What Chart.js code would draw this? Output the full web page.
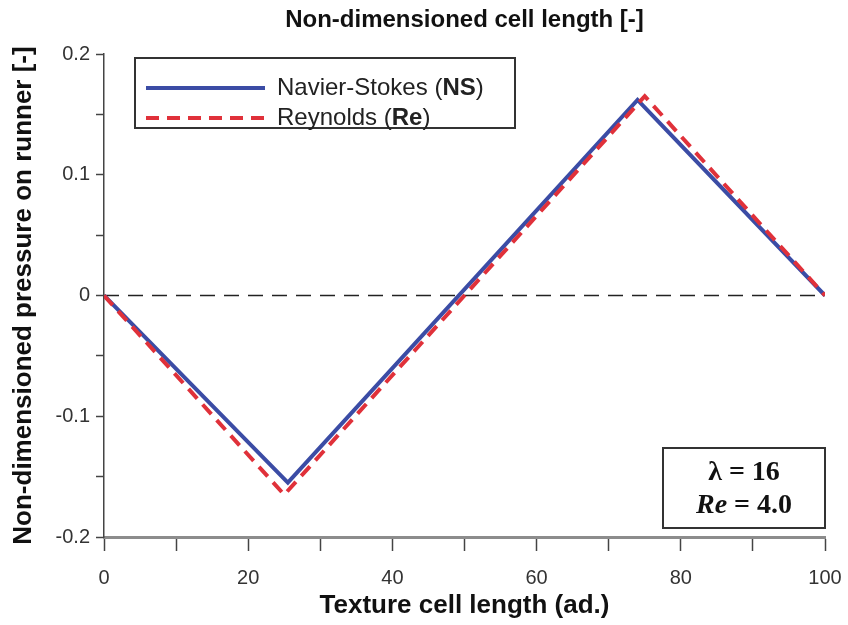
<!DOCTYPE html>
<html>
<head>
<meta charset="utf-8">
<script src="https://cdn.jsdelivr.net/npm/chart.js@4.4.1/dist/chart.umd.min.js"></script>
<style>
  body { margin: 0; background: #fff; }
</style>
</head>
<body>
<canvas id="pressureChart" width="848" height="625"></canvas>
<script>
// texture cell length (ad.) and non-dimensioned pressure
const nsX = [0, 25.5, 74, 100];
const nsP = [0, -0.155, 0.162, 0];
const reX = [0, 25, 75, 100];
const reP = [0, -0.165, 0.165, 0];
const zeroX = [0, 100];
const zeroP = [0, 0];

const legendLabels = [
    { plain: "Navier-Stokes (", bold: "NS", tail: ")" },
    { plain: "Reynolds (", bold: "Re", tail: ")" },
];

const SANS = "'Liberation Sans', Arial, sans-serif";
const SERIF = "'Liberation Serif', 'Times New Roman', serif";

const toPts = (xs, ys) => xs.map((x, i) => ({ x: x, y: ys[i] }));

// legend + parameter box, drawn by hand so part of the text can be bold
const boxes = {
    id: "boxes",
    afterDraw(chart) {
        const ctx = chart.ctx;
        const ds = chart.data.datasets;
        ctx.save();

        // legend
        ctx.strokeStyle = "#333";
        ctx.lineWidth = 2;
        ctx.strokeRect(135, 58, 380, 70);
        const rows = [
            { y: 88, set: ds[1] },
            { y: 118, set: ds[0] },
        ];
        rows.forEach((r, i) => {
            ctx.beginPath();
            ctx.strokeStyle = r.set.borderColor;
            ctx.lineWidth = r.set.borderWidth;
            ctx.setLineDash(r.set.borderDash || []);
            ctx.moveTo(146, r.y);
            ctx.lineTo(265, r.y);
            ctx.stroke();
            ctx.setLineDash([]);

            const lab = legendLabels[i];
            let x = 277;
            ctx.fillStyle = "#222";
            ctx.textBaseline = "middle";
            ctx.textAlign = "left";
            ctx.font = "24px " + SANS;
            ctx.fillText(lab.plain, x, r.y);
            x += ctx.measureText(lab.plain).width;
            ctx.font = "bold 24px " + SANS;
            ctx.fillText(lab.bold, x, r.y);
            x += ctx.measureText(lab.bold).width;
            ctx.font = "24px " + SANS;
            ctx.fillText(lab.tail, x, r.y);
        });

        // lambda / Re box
        ctx.strokeStyle = "#333";
        ctx.lineWidth = 2;
        ctx.strokeRect(663, 448, 162, 80);
        ctx.fillStyle = "#111";
        ctx.textBaseline = "middle";
        ctx.textAlign = "center";
        ctx.font = "bold 28px " + SERIF;
        ctx.fillText("\u03bb = 16", 744, 473);

        ctx.textAlign = "left";
        ctx.font = "italic bold 28px " + SERIF;
        const a = "Re";
        const wa = ctx.measureText(a).width;
        ctx.font = "bold 28px " + SERIF;
        const b = " = 4.0";
        const wb = ctx.measureText(b).width;
        let sx = 744 - (wa + wb) / 2;
        ctx.font = "italic bold 28px " + SERIF;
        ctx.fillText(a, sx, 506);
        ctx.font = "bold 28px " + SERIF;
        ctx.fillText(b, sx + wa, 506);

        ctx.restore();
    },
};

const config = {
    type: "line",
    data: {
        datasets: [
            {
                label: "Reynolds (Re)",
                data: toPts(reX, reP),
                borderColor: "#e0313a",
                borderWidth: 4,
                borderDash: [13, 8],
                pointRadius: 0,
                order: 1,
            },
            {
                label: "Navier-Stokes (NS)",
                data: toPts(nsX, nsP),
                borderColor: "#3b4ca5",
                borderWidth: 4,
                pointRadius: 0,
                order: 2,
            },
            {
                label: "zero",
                data: toPts(zeroX, zeroP),
                borderColor: "#222",
                borderWidth: 1.5,
                borderDash: [15, 9],
                pointRadius: 0,
                order: 3,
            },
        ],
    },
    options: {
        responsive: false,
        animation: false,
        devicePixelRatio: 1,
        layout: { padding: { right: 23, left: 0, top: 0, bottom: 0 } },
        plugins: {
            legend: { display: false },
            tooltip: { enabled: false },
        },
        scales: {
            x: {
                type: "linear",
                position: "bottom",
                min: 0,
                max: 100,
                afterFit: (s) => {
                    s.height = 88;
                    s.paddingLeft = 0;
                    s.paddingRight = 0;
                },
                ticks: {
                    stepSize: 10,
                    autoSkip: false,
                    maxRotation: 0,
                    padding: 15,
                    color: "#333",
                    font: { family: SANS, size: 20 },
                    callback: (v) => (v % 20 === 0 ? String(v) : ""),
                },
                grid: {
                    drawOnChartArea: false,
                    drawTicks: true,
                    tickLength: 14,
                    tickWidth: 1.5,
                    tickColor: "#444",
                },
                border: { display: true, color: "#8c8c8c", width: 3 },
                title: {
                    display: true,
                    text: "Texture cell length (ad.)",
                    color: "#111",
                    font: { family: SANS, size: 26, weight: "bold" },
                    padding: { top: 0, bottom: 4 },
                },
            },
            x2: {
                type: "linear",
                position: "top",
                min: 0,
                max: 100,
                afterFit: (s) => {
                    s.height = 54;
                    s.paddingLeft = 0;
                    s.paddingRight = 0;
                },
                ticks: { display: false },
                grid: { display: false },
                border: { display: false },
                title: {
                    display: true,
                    text: "Non-dimensioned cell length [-]",
                    color: "#111",
                    font: { family: SANS, size: 24, weight: "bold" },
                    padding: { top: 6, bottom: 0 },
                },
            },
            y: {
                type: "linear",
                position: "left",
                min: -0.2,
                max: 0.2,
                afterFit: (s) => { s.width = 104; },
                ticks: {
                    stepSize: 0.05,
                    autoSkip: false,
                    padding: 6,
                    color: "#333",
                    font: { family: SANS, size: 20 },
                    callback: (v) => {
                        const r = Math.round(v * 100);
                        if (r % 10 !== 0) return "";
                        return r === 0 ? "0" : String(r / 100);
                    },
                },
                grid: {
                    drawOnChartArea: false,
                    drawTicks: true,
                    tickLength: 8,
                    tickWidth: 1.5,
                    tickColor: "#444",
                },
                border: { display: true, color: "#444", width: 1.5 },
                title: {
                    display: true,
                    text: "Non-dimensioned pressure on runner [-]",
                    color: "#111",
                    font: { family: SANS, size: 26, weight: "bold" },
                    padding: { top: 8, bottom: 0 },
                },
            },
        },
    },
    plugins: [boxes],
};

new Chart(document.getElementById("pressureChart"), config);
</script>
</body>
</html>
